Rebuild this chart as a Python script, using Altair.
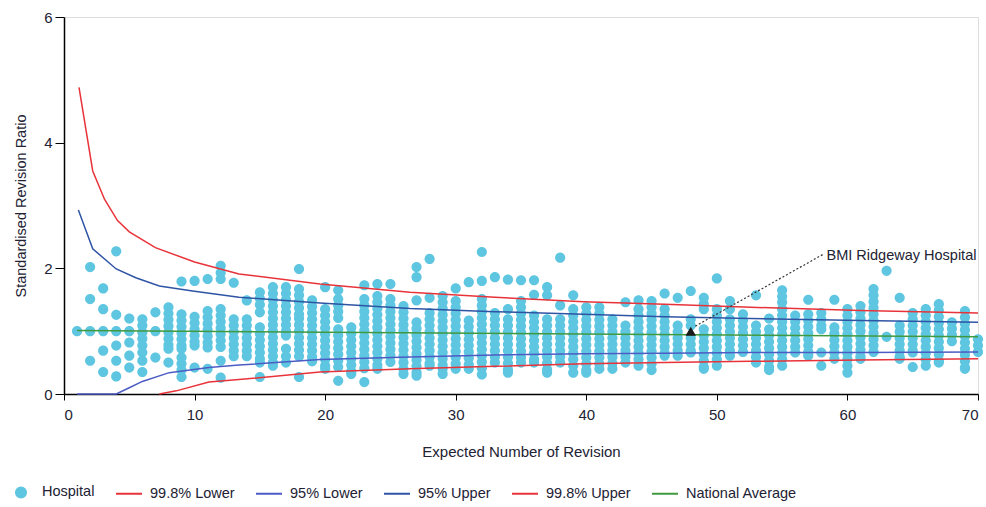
import altair as alt
import pandas as pd

# ---------------- data ----------------
series_names = ["Hospital", "99.8% Lower", "95% Lower", "95% Upper", "99.8% Upper", "National Average"]
series_colors = ["#5ec6e0", "#e8333a", "#4c5cc4", "#2f54a4", "#e8333a", "#3f9a3f"]
DOT = "M0.39,0A0.39,0.39,0,1,1,-0.39,0A0.39,0.39,0,1,1,0.39,0Z"
DASH = "M-1,0H1"
series_shapes = [DOT, DASH, DASH, DASH, DASH, DASH]

hospital_columns = list(range(1, 71))
hospital_values = [
    [1.0],
    [2.02, 1.51, 1.0, 0.53],
    [1.68, 1.35, 1.0, 0.69, 0.35],
    [2.27, 1.26, 1.0, 0.77, 0.53, 0.28],
    [1.2, 1.0, 0.82, 0.61, 0.42],
    [1.19, 1.09, 0.98, 0.88, 0.77, 0.66, 0.53, 0.35],
    [1.3, 1.0, 0.58],
    [1.38, 1.28, 1.18, 1.08, 0.98, 0.88, 0.78, 0.72, 0.5],
    [1.79, 1.27, 1.17, 1.07, 0.97, 0.87, 0.77, 0.72, 0.58, 0.48, 0.38, 0.27],
    [1.8, 1.23, 1.13, 1.03, 0.93, 0.83, 0.77, 0.42],
    [1.83, 1.32, 1.22, 1.12, 1.02, 0.92, 0.82, 0.74, 0.4],
    [2.04, 1.93, 1.83, 1.35, 1.25, 1.15, 1.05, 0.95, 0.85, 0.75, 0.53, 0.26],
    [1.77, 1.19, 1.09, 0.99, 0.89, 0.79, 0.69, 0.6],
    [1.49, 1.19, 1.09, 0.99, 0.89, 0.79, 0.69, 0.6],
    [1.62, 1.52, 1.42, 1.3, 1.06, 0.96, 0.86, 0.76, 0.66, 0.56, 0.5, 0.27],
    [1.7, 1.6, 1.5, 1.4, 1.3, 1.2, 1.1, 1.0, 0.9, 0.8, 0.7, 0.6, 0.5, 0.45],
    [1.7, 1.6, 1.5, 1.4, 1.3, 1.2, 1.1, 1.0, 0.93, 0.72, 0.6, 0.5],
    [1.99, 1.67, 1.57, 1.47, 1.37, 1.27, 1.2, 1.1, 1.0, 0.9, 0.8, 0.7, 0.6, 0.27],
    [1.49, 1.39, 1.29, 1.19, 1.09, 0.99, 0.89, 0.79, 0.69, 0.59, 0.52],
    [1.7, 1.35, 1.25, 1.15, 1.05, 0.95, 0.85, 0.75, 0.65, 0.55, 0.45, 0.4],
    [1.65, 1.51, 1.41, 1.31, 1.21, 1.03, 0.93, 0.83, 0.73, 0.63, 0.53, 0.43, 0.21],
    [1.06, 0.96, 0.86, 0.76, 0.66, 0.56, 0.46, 0.36, 0.32],
    [1.73, 1.51, 1.41, 1.31, 1.21, 1.11, 1.01, 0.91, 0.81, 0.71, 0.61, 0.51, 0.41, 0.19],
    [1.75, 1.56, 1.46, 1.36, 1.26, 1.16, 1.06, 0.96, 0.86, 0.76, 0.66, 0.56, 0.46, 0.4],
    [1.75, 1.51, 1.41, 1.31, 1.21, 1.11, 1.01, 0.91, 0.81, 0.71, 0.61, 0.51],
    [1.4, 1.3, 1.2, 1.1, 1.0, 0.9, 0.8, 0.7, 0.6, 0.5, 0.4, 0.32],
    [2.02, 1.86, 1.49, 1.14, 1.04, 0.94, 0.84, 0.74, 0.64, 0.54, 0.44, 0.34, 0.29],
    [2.15, 1.53, 1.29, 1.19, 1.09, 0.99, 0.89, 0.79, 0.69, 0.59, 0.49, 0.45],
    [1.56, 1.46, 1.36, 1.26, 1.16, 1.06, 0.96, 0.86, 0.76, 0.66, 0.56, 0.46, 0.4, 0.32],
    [1.68, 1.48, 1.38, 1.28, 1.18, 1.08, 0.98, 0.88, 0.78, 0.68, 0.58, 0.48, 0.4],
    [1.78, 1.17, 1.07, 0.97, 0.87, 0.77, 0.67, 0.57, 0.47, 0.4],
    [2.26, 1.8, 1.51, 1.41, 1.31, 1.21, 1.11, 1.01, 0.91, 0.81, 0.71, 0.61, 0.51, 0.41, 0.31],
    [1.86, 1.29, 1.19, 1.09, 0.99, 0.89, 0.79, 0.69, 0.59, 0.5],
    [1.82, 1.35, 1.19, 1.09, 0.99, 0.89, 0.79, 0.69, 0.59, 0.49, 0.39, 0.34],
    [1.81, 1.48, 1.38, 1.28, 1.18, 1.08, 0.98, 0.88, 0.78, 0.68, 0.58, 0.5],
    [1.81, 1.58, 1.25, 1.15, 1.05, 0.95, 0.85, 0.75, 0.65, 0.55, 0.5],
    [1.7, 1.57, 1.19, 1.09, 0.99, 0.89, 0.79, 0.69, 0.59, 0.49, 0.39, 0.34],
    [2.17, 1.41, 1.19, 1.09, 0.99, 0.89, 0.79, 0.69, 0.59, 0.5],
    [1.57, 1.35, 1.25, 1.15, 1.05, 0.95, 0.85, 0.75, 0.65, 0.55, 0.45, 0.34],
    [1.38, 1.28, 1.18, 1.08, 0.98, 0.88, 0.78, 0.68, 0.58, 0.48, 0.38, 0.34],
    [1.38, 1.28, 1.18, 1.08, 0.98, 0.88, 0.78, 0.68, 0.58, 0.48, 0.4],
    [1.19, 1.09, 0.99, 0.89, 0.79, 0.69, 0.59, 0.49, 0.4],
    [1.46, 1.09, 0.99, 0.89, 0.79, 0.69, 0.59, 0.5],
    [1.49, 1.35, 1.25, 1.15, 1.05, 0.95, 0.85, 0.75, 0.65, 0.55, 0.45],
    [1.48, 1.38, 1.28, 1.18, 1.08, 0.98, 0.88, 0.78, 0.68, 0.58, 0.48, 0.38],
    [1.6, 1.35, 1.25, 1.15, 1.05, 0.95, 0.85, 0.75, 0.65, 0.61],
    [1.53, 1.09, 0.99, 0.89, 0.79, 0.69, 0.61],
    [1.64, 1.19, 1.09, 0.89, 0.79, 0.69, 0.66],
    [1.53, 1.43, 1.35, 1.03, 0.93, 0.83, 0.73, 0.63, 0.53, 0.43, 0.4],
    [1.84, 1.35, 1.25, 1.15, 1.05, 0.95, 0.85, 0.75, 0.65, 0.55, 0.45],
    [1.48, 1.35, 1.19, 1.09, 0.99, 0.89, 0.79, 0.69, 0.61],
    [1.27, 1.17, 1.07, 0.97, 0.87, 0.77, 0.67],
    [1.57, 1.09, 0.99, 0.89, 0.79, 0.69, 0.59, 0.5],
    [1.2, 1.03, 0.93, 0.83, 0.73, 0.63, 0.53, 0.43, 0.38],
    [1.65, 1.55, 1.46, 1.35, 1.25, 1.15, 1.05, 0.95, 0.85, 0.75, 0.65, 0.55, 0.45],
    [1.25, 1.15, 1.05, 0.95, 0.85, 0.75, 0.66],
    [1.5, 1.27, 1.17, 1.07, 0.97, 0.87, 0.77, 0.67, 0.61],
    [1.29, 1.19, 1.09, 1.03, 0.66, 0.45],
    [1.5, 1.06, 0.96, 0.86, 0.76, 0.66, 0.56],
    [1.35, 1.25, 1.15, 1.05, 0.95, 0.85, 0.75, 0.65, 0.55, 0.45, 0.34],
    [1.4, 1.3, 1.2, 1.1, 1.0, 0.9, 0.8, 0.7, 0.6, 0.56],
    [1.67, 1.57, 1.47, 1.37, 1.27, 1.17, 1.07, 0.97, 0.87, 0.77, 0.67],
    [1.96, 0.91],
    [1.53, 1.09, 0.99, 0.89, 0.79, 0.69, 0.59, 0.56],
    [1.29, 1.19, 1.09, 0.99, 0.89, 0.79, 0.69, 0.66, 0.43],
    [1.35, 1.25, 1.15, 1.05, 0.95, 0.85, 0.75, 0.65, 0.55, 0.45],
    [1.43, 1.33, 1.23, 1.13, 1.03, 0.93, 0.83, 0.73, 0.63, 0.53, 0.5],
    [1.14, 1.04, 0.94, 0.84],
    [1.32, 1.22, 1.12, 1.02, 0.92, 0.82, 0.72, 0.62, 0.52, 0.42, 0.4],
    [0.87, 0.77, 0.67],
]

upper998_x = [1.15, 2.2, 3.1, 4.1, 5.0, 7.0, 10.0, 13.4, 19.6, 26.5, 33.0, 39.8, 46.0, 52.6, 61.0, 70.0]
upper998_y = [4.88, 3.55, 3.10, 2.76, 2.58, 2.33, 2.10, 1.91, 1.75, 1.62, 1.54, 1.47, 1.43, 1.38, 1.33, 1.29]
upper95_x = [1.1, 2.2, 4.0, 5.5, 7.3, 9.85, 13.4, 19.6, 26.5, 33.0, 39.8, 46.0, 52.6, 61.0, 70.0]
upper95_y = [2.93, 2.31, 1.99, 1.85, 1.72, 1.64, 1.54, 1.45, 1.36, 1.31, 1.27, 1.23, 1.20, 1.17, 1.14]
lower95_x = [1.0, 4.0, 5.0, 6.0, 8.06, 11.1, 13.4, 19.6, 26.5, 33.0, 39.8, 46.0, 52.6, 61.0, 70.0]
lower95_y = [0.0, 0.0, 0.1, 0.2, 0.34, 0.42, 0.46, 0.55, 0.59, 0.62, 0.64, 0.65, 0.66, 0.66, 0.67]
lower998_x = [7.3, 8.6, 11.1, 13.4, 19.6, 26.5, 33.0, 39.8, 46.0, 52.6, 61.0, 70.0]
lower998_y = [0.0, 0.05, 0.19, 0.23, 0.35, 0.40, 0.44, 0.48, 0.50, 0.52, 0.54, 0.56]
national_x = [1.0, 70.0]
national_y = [1.01, 0.91]

ridgeway_name = ["BMI Ridgeway Hospital"]
ridgeway_x = [48.0]
ridgeway_y = [1.0]
label_x = [58.4]
label_y = [2.19]
pointer_start_x = [48.35]
pointer_start_y = [1.08]
pointer_end_x = [58.2]
pointer_end_y = [2.23]

x_ticks = [0, 10, 20, 30, 40, 50, 60, 70]
y_ticks = [0, 2, 4, 6]

# ---------------- tables ----------------
hosp_rows = []
for cx, vals in zip(hospital_columns, hospital_values):
    for v in vals:
        hosp_rows.append({"x": cx, "y": v, "series": "Hospital"})
hosp_df = pd.DataFrame(hosp_rows)

line_rows = []
for name, xs, ys in [
    ("99.8% Lower", lower998_x, lower998_y),
    ("95% Lower", lower95_x, lower95_y),
    ("95% Upper", upper95_x, upper95_y),
    ("99.8% Upper", upper998_x, upper998_y),
    ("National Average", national_x, national_y),
]:
    for i, (a, b) in enumerate(zip(xs, ys)):
        line_rows.append({"x": a, "y": b, "series": name, "order": i})
line_df = pd.DataFrame(line_rows)

ann_df = pd.DataFrame({
    "name": ridgeway_name, "hx": ridgeway_x, "hy": ridgeway_y,
    "lx": label_x, "ly": label_y,
    "px": pointer_start_x, "py": pointer_start_y,
    "px2": pointer_end_x, "py2": pointer_end_y,
})

FONT = "Liberation Sans"
TEXT = "#222233"

xscale = alt.Scale(domain=[0, 70], nice=False, zero=False)
yscale = alt.Scale(domain=[0, 6], nice=False)
cscale = alt.Scale(domain=series_names, range=series_colors)
shscale = alt.Scale(domain=series_names, range=series_shapes)

x_axis = alt.Axis(values=x_ticks, title="Expected Number of Revision", grid=False, format="d",
                  tickSize=6, labelPadding=7, titlePadding=22, labelFontSize=15,
                  titleFontSize=15, labelFont=FONT, titleFont=FONT,
                  labelColor=TEXT, titleColor=TEXT, titleFontWeight="normal",
                  domainColor="#000000", tickColor="#000000", domainWidth=1.5)
y_axis = alt.Axis(values=y_ticks, title="Standardised Revision Ratio", grid=False, format="d",
                  tickSize=9, labelPadding=3, titlePadding=15, labelFontSize=15,
                  titleFontSize=14.5, labelFont=FONT, titleFont=FONT,
                  labelColor=TEXT, titleColor=TEXT, titleFontWeight="normal",
                  domainColor="#000000", tickColor="#000000", domainWidth=1.5)

legend = alt.Legend(
    title=None, orient="none", direction="horizontal", legendX=-57, legendY=461,
    labelFont=FONT, labelFontSize=14.5, labelColor=TEXT, symbolSize=676,
    labelOffset=7, columnPadding=17, symbolStrokeWidth=2, symbolOpacity=1,
)

points = alt.Chart(hosp_df).mark_point(filled=True, opacity=1, size=676).encode(
    x=alt.X("x:Q", scale=xscale, axis=x_axis),
    y=alt.Y("y:Q", scale=yscale, axis=y_axis),
    color=alt.Color("series:N", scale=cscale, legend=legend),
    shape=alt.Shape("series:N", scale=shscale, legend=legend),
)

lines = alt.Chart(line_df).mark_line(strokeWidth=1.5).encode(
    x=alt.X("x:Q", scale=xscale),
    y=alt.Y("y:Q", scale=yscale),
    color=alt.Color("series:N", scale=cscale, legend=legend),
    order="order:Q",
)

pointer = alt.Chart(ann_df).mark_rule(color="#333333", strokeWidth=1.2, strokeDash=[2, 2]).encode(
    x="px:Q", y="py:Q", x2="px2:Q", y2="py2:Q",
)

triangle = alt.Chart(ann_df).mark_point(shape="triangle-up", filled=True, size=110,
                                         color="#1a1a1a", opacity=1).encode(
    x="hx:Q", y="hy:Q",
)

label = alt.Chart(ann_df).mark_text(align="left", baseline="middle", font=FONT,
                                     fontSize=14.5, color=TEXT).encode(
    x="lx:Q", y="ly:Q", text="name:N",
)

chart = alt.layer(points, lines, pointer, triangle, label).properties(
    width=914, height=377,
    autosize=alt.AutoSizeParams(type="none"),
    padding={"left": 64, "top": 17, "right": 8, "bottom": 113},
).resolve_scale(color="shared").configure_view(stroke=None).configure(background="#ffffff")

chart.save("out.html", embed_options={"renderer": "svg", "actions": False})
